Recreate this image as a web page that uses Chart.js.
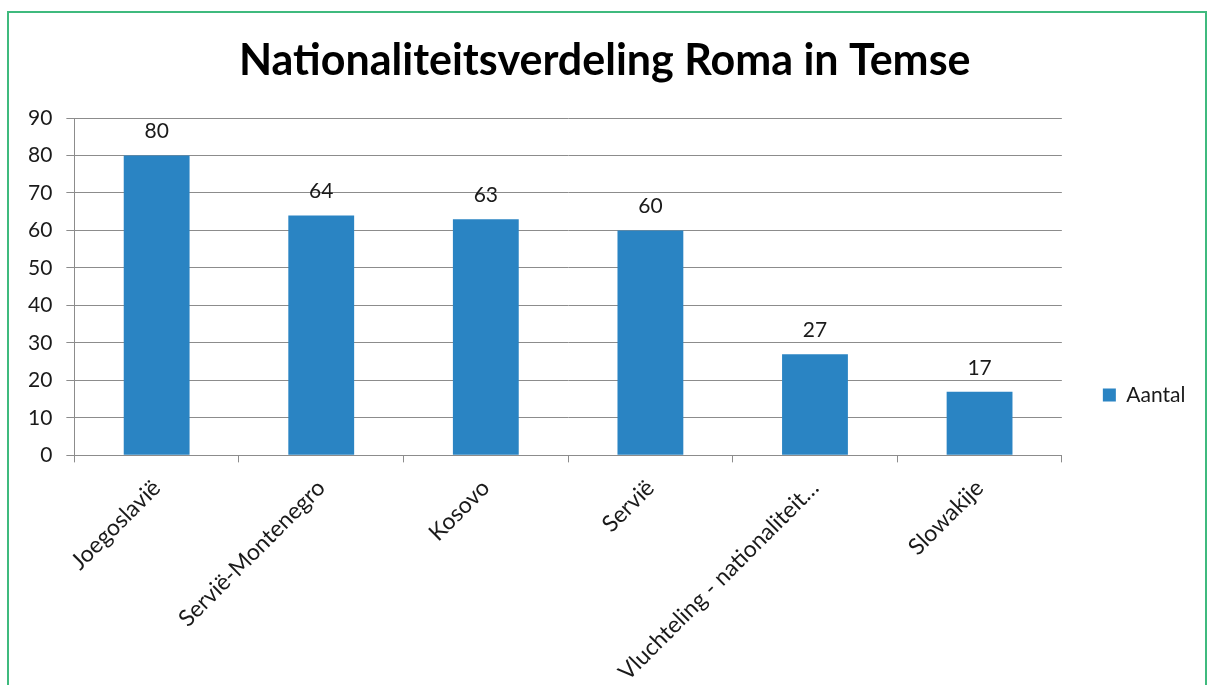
<!DOCTYPE html>
<html>
<head>
<meta charset="utf-8">
<script src="https://cdn.jsdelivr.net/npm/chart.js@4"></script>
<style>
  html, body { margin: 0; padding: 0; background: #fff; }
  #wrap { position: relative; width: 1207px; height: 685px; overflow: hidden; }
  #frame { position: absolute; left: 7px; top: 11px; width: 1196px; height: 700px;
           border: 2px solid #3fba7e; pointer-events: none; }
  canvas { position: absolute; left: 0; top: 0; }
</style>
</head>
<body>
<div id="wrap">
  <canvas id="mycanvas" width="1207" height="685"></canvas>
  <div id="frame"></div>
</div>
<script>
var chartTitle = 'Nationaliteitsverdeling Roma in Temse';
var landen = ['Joegoslavië', 'Servië-Montenegro', 'Kosovo', 'Servië', 'Vluchteling - nationaliteit…', 'Slowakije'];
var aantal = [80, 64, 63, 60, 27, 17];
var seriesName = 'Aantal';
var yTicks = [0, 10, 20, 30, 40, 50, 60, 70, 80, 90];

var fontName = 'Lato, "Open Sans", sans-serif';

// labels boven de staven
var valueLabels = {
    id: 'valueLabels',
    afterDatasetsDraw: function(chart) {
        var ctx = chart.ctx;
        var meta = chart.getDatasetMeta(0);
        ctx.save();
        ctx.font = '21px ' + fontName;
        ctx.fillStyle = '#1a1a1a';
        ctx.textAlign = 'center';
        ctx.textBaseline = 'alphabetic';
        for (var i = 0; i < meta.data.length; i++) {
            var bar = meta.data[i];
            ctx.fillText(String(aantal[i]), bar.x, bar.y - 17);
        }
        ctx.restore();
    }
};

var chartdata = {
    labels: landen,
    datasets: [{
        label: seriesName,
        backgroundColor: '#2a84c3',
        borderWidth: 0,
        barPercentage: 0.4,
        categoryPercentage: 1.0,
        data: aantal
    }]
};

var ctx = document.getElementById('mycanvas');

var barGraph = new Chart(ctx, {
    type: 'bar',
    data: chartdata,
    plugins: [valueLabels],
    options: {
        responsive: false,
        animation: false,
        layout: { padding: { left: 14, right: 11.5, top: 29, bottom: -13 } },
        plugins: {
            title: {
                display: true,
                text: chartTitle,
                color: '#000',
                font: { family: fontName, size: 43, weight: 'bold' },
                padding: { top: 6, bottom: 31.4 }
            },
            legend: {
                position: 'right',
                title: {
                    display: true,
                    text: ' ',
                    font: { size: 10 },
                    padding: { top: 51, bottom: 0 }
                },
                labels: {
                    color: '#1a1a1a',
                    font: { family: fontName, size: 21 },
                    boxWidth: 13,
                    boxHeight: 13,
                    padding: 41
                }
            },
            tooltip: { enabled: false }
        },
        scales: {
            x: {
                grid: {
                    display: true,
                    offset: true,
                    drawOnChartArea: false,
                    tickLength: 7,
                    color: '#8c8c8c'
                },
                border: { color: '#8c8c8c', width: 1 },
                ticks: {
                    color: '#1a1a1a',
                    font: { family: fontName, size: 23 },
                    minRotation: 45,
                    maxRotation: 45,
                    autoSkip: false,
                    padding: 12
                }
            },
            y: {
                min: 0,
                max: 90,
                afterBuildTicks: function(axis) {
                    axis.ticks = yTicks.map(function(v) { return { value: v }; });
                },
                grid: { color: '#8c8c8c', tickLength: 8 },
                border: { color: '#8c8c8c', width: 1 },
                ticks: {
                    color: '#1a1a1a',
                    font: { family: fontName, size: 21 },
                    padding: 14
                }
            }
        }
    }
});
</script>
</body>
</html>
